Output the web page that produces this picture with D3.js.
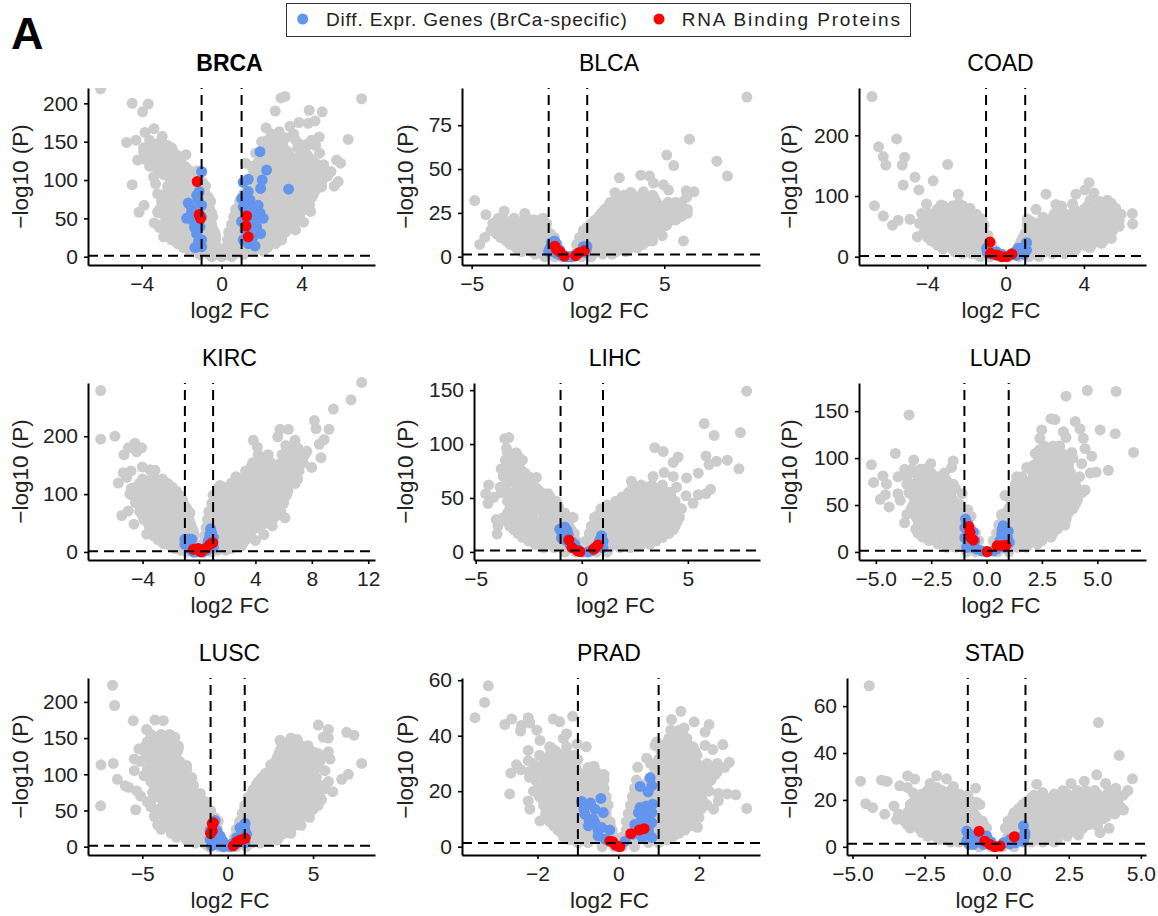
<!DOCTYPE html>
<html>
<head>
<meta charset="utf-8">
<script src="https://cdn.jsdelivr.net/npm/d3@7"></script>
<style>
  body { margin: 0; background: #fff; }
  text { font-family: "Liberation Sans", Arial, sans-serif; }
</style>
</head>
<body>
<div id="chart"></div>
<script>
// values. Grey rows are [y, x, x, x...], the sparse points are [x, y]
const brcaGreyRows = [
  [0,-0.5,0,0.5],[3,-1.1,-0.6,-0.2,0.2,0.6,1.1],
  [7,-1.6,-1.1,-0.7,-0.35,0.35,0.7,1.1,1.6,2.1],
  [12,-1.9,-1.4,-0.9,-0.5,-0.2,0.2,0.5,0.9,1.4,1.9,2.3],
  [17,-2.2,-1.7,-1.2,-0.8,-0.4,0.4,0.8,1.2,1.7,2.2,2.7],
  [22,-2.5,-2.0,-1.5,-1.0,-0.6,-0.3,0.3,0.6,1,1.5,2,2.5,3.0],
  [27,-2.5,-2,-1.5,-1,-0.6,-0.3,0.6,1,1.5,2,2.5,3],
  [32,-2.7,-2.2,-1.7,-1.2,-0.8,-0.35,0.35,0.8,1.2,1.7,2.2,2.7,3.2],
  [37,-2.9,-2.4,-1.9,-1.4,-0.9,-0.45,0.6,1,1.5,2,2.5,3,3.4],
  [42,-3.0,-2.5,-2,-1.5,-1,-0.5,0.5,0.9,1.4,1.9,2.4,2.9,3.4],
  [47,-2.7,-2.2,-1.7,-1.2,-0.7,0.8,1.2,1.7,2.2,2.7,3.2,3.7],
  [52,-2.8,-2.3,-1.8,-1.3,-0.8,-0.45,0.6,1,1.5,2,2.5,3,3.5,3.9],
  [57,-3,-2.5,-2,-1.5,-1,-0.5,0.9,1.4,1.9,2.4,2.9,3.4,3.9],
  [62,-3.1,-2.6,-2.1,-1.6,-1.1,-0.6,0.7,1.2,1.7,2.2,2.7,3.2,3.7,4.2],
  [67,-2.8,-2.3,-1.8,-1.3,-0.8,1,1.5,2,2.5,3,3.5,4,4.4],
  [72,-3.0,-2.5,-2,-1.5,-1,-0.55,0.9,1.3,1.8,2.3,2.8,3.3,3.8,4.3],
  [77,-2.6,-2.1,-1.6,-1.1,-0.65,1.1,1.6,2.1,2.6,3.1,3.6,4.1,4.5],
  [82,-2.8,-2.3,-1.8,-1.3,-0.8,1.1,1.6,2.1,2.6,3.1,3.6,4.1,4.6],
  [87,-2.5,-2,-1.5,-1,1.3,1.8,2.3,2.8,3.3,3.8,4.3,4.7],
  [92,-2.7,-2.2,-1.7,-1.2,-0.8,1.3,1.8,2.3,2.8,3.3,3.8,4.3,4.8],
  [97,-2.4,-1.9,-1.4,-0.95,1.6,2.1,2.6,3.1,3.6,4.1,4.6,5],
  [102,-2.6,-2.1,-1.6,-1.1,1.5,2,2.5,3,3.5,4,4.5,5],
  [107,-2.9,-2.4,-1.9,-1.4,1.8,2.3,2.8,3.3,3.8,4.3,4.8],
  [112,-3.1,-2.6,-2.1,-1.6,-1.2,1.6,2.1,2.6,3.1,3.6,4.1,4.6,5.0],
  [117,-3.3,-2.8,-2.3,-1.8,1.9,2.4,2.9,3.4,3.9,4.4,4.9],
  [122,-3.5,-3,-2.5,-2,1.8,2.3,2.8,3.3,3.8,4.3,4.7],
  [127,-3.8,-3.3,-2.8,-2.2,2.1,2.6,3.1,3.6,4.1,4.5],
  [132,-3.6,-3.1,-2.6,-2.2,2,2.5,3,3.4,3.9,4.3],
  [137,-3.4,-2.9,-2.6,2.3,2.8,3.3,4],
  [142,-3.9,-3.4,-2.9,-2.5,2.1,2.6,3.1,3.8,4.2],
  [147,-3.4,-3.2,2.5,2.9,3.9,4.3],
  [152,-3.6,-3.0,2.3,2.8,3.1,3.7,4.5]
];
const brcaGreyOut = [[-6.05,219],[-4.47,200],[-3.67,199],[-3.95,189],[-4.75,149],[-4.28,152],[-3.83,162],[-3.38,167],[-2.97,157],[-4.2,126],[-2.42,137],[-1.78,133],[-4.47,94],[-3.88,67],[-4.13,58],[-3.37,44],[-2.9,26],[-3.4,104],[7,206],[3.17,209],[2.97,207],[2.68,190],[4.38,191],[5.03,189],[2.22,168],[4.67,177],[4.33,174],[3.87,175],[3.42,170],[2.88,163],[6.33,153],[4.88,156],[5.75,126],[5.95,122],[5.47,111],[5.83,98],[5.63,92],[5,91],[4.45,59],[1.2,122],[5.3,105],[5.1,120],[4.9,135],[4.7,145],[3.6,160],[3.2,155],[2.5,160],[2,150],[1.7,135],[1.5,118],[-2.2,125],[-3.9,137],[-2.7,145],[-3.6,118],[-3.3,95],[-3.2,82],[-3.2,58],[-3.1,38],[3.7,35],[4.1,45],[4.4,60]];
const brcaBlue = [[-1,111],[1.92,137],[2.25,113],[3.35,88],[1.33,101],[1.08,97],[2.03,100],[1.95,89],[-1.12,85],[-1.67,70],[-1.5,57],[-1.75,50],[-1,67],[-1.25,80],[-1.4,46],[-1.08,39],[-1.25,30],[-1,22],[-1.33,12],[-1,13],[-1.5,63],[-1,52],[-1.17,74],[1,76],[1.33,85],[1.42,74],[1.83,67],[1.92,57],[2.08,50],[1.67,61],[1.08,65],[1.58,48],[1,46],[1.17,35],[1.95,30],[1.08,22],[1.67,14],[1.33,17],[1.42,54],[1.75,39],[1.33,67],[-1.3,55],[-1.35,38],[-1.15,20],[1.35,30],[1.55,25],[1.4,42],[1.7,52]];
const brcaRed = [[-1.22,98],[-1.12,55],[-1.05,50],[1.25,53],[1.22,40],[1.33,26]];

const blcaGreyRows = [
  [0,-1.2,-0.7,-0.3,0,0.3,0.7,1.2],
  [1.5,-1.7,-1.3,-0.9,0.9,1.3,1.8,2.3],
  [3,-2.4,-1.9,-1.5,-1,-0.5,0.5,1,1.5,2,2.5,3],
  [5,-2.7,-2.2,-1.7,-1.25,-0.8,0.7,1.2,1.7,2.2,2.7,3.2,3.6],
  [7,-3,-2.5,-2,-1.5,-1,-0.55,0.45,0.9,1.4,1.9,2.4,2.9,3.4,3.9],
  [9,-3.2,-2.7,-2.2,-1.7,-1.25,-0.8,0.7,1.2,1.7,2.2,2.7,3.2,3.7,4.2],
  [11,-3.5,-3,-2.5,-2,-1.5,-1.05,-0.7,0.6,1.0,1.5,2,2.5,3,3.5,4,4.3],
  [13,-3.7,-3.2,-2.7,-2.2,-1.7,-1.3,-0.9,0.9,1.4,1.9,2.4,2.9,3.4,3.9,4.4],
  [15,-4,-3.5,-3,-2.5,-2,-1.5,-1.1,0.8,1.2,1.7,2.2,2.7,3.2,3.7,4.2,4.6],
  [17,-3.8,-3.3,-2.8,-2.3,-1.8,-1.3,1,1.5,2,2.5,3,3.5,4,4.5,4.9],
  [19,-3.6,-3.1,-2.6,-2.1,-1.6,-1.1,1.2,1.6,2.1,2.6,3.1,3.6,4.1,4.6,5],
  [21,-3.3,-2.8,-2.3,-1.8,-1.3,1.4,1.8,2.3,2.8,3.3,3.8,4.3,4.8,5.2,5.6],
  [23,-2.2,1.6,2,2.5,3,3.5,4,4.5,5,5.4,5.9],
  [25,1.75,2.2,2.7,3.2,3.7,4.2,4.7,5.1,5.6],
  [27,1.9,2.3,2.8,3.3,3.8,4.3,4.8,5.3],
  [29,2.1,2.5,3,3.5,4,4.5,5,5.5],
  [31,2.2,2.7,3.2,3.7,4.2,4.6,5.2,5.6],
  [33,2.6,3,3.5,4,4.5],
  [35,2.9,3.4,3.9,4.4]
];
const blcaGreyOut = [[9.29,91],[6.31,67],[5.13,58],[5.49,52],[7.73,54.5],[8.28,46],[2.67,45],[3.78,46.5],[4.23,46],[4.44,42],[4.96,41],[5.22,38],[2.44,36.5],[3.26,36.7],[3.92,37],[6.14,37.6],[6.55,37],[6.17,34],[6.2,27],[6.2,24.7],[6,9],[5.13,18],[-4.84,32],[-4.26,24],[-3.31,26],[-4.32,11],[-4.58,7],[-2.24,24.7],[-3.62,22],[5.8,28],[5.9,31],[5.5,27],[5.4,21],[4.9,12],[4.4,9],[-3.9,19],[-2.8,22],[-1.3,22],[-1.7,21]];
const blcaBlue = [[-0.62,7.6],[-0.94,4.7],[-0.59,2],[-0.16,0],[0.19,0],[0.71,2.8],[0.97,4.7],[0.8,5.7],[0.36,1],[-0.42,3.8],[-0.8,6],[-0.75,3],[-0.3,1],[0.55,2],[0.9,2.5],[0.05,0],[-0.85,8],[-1,3],[-0.7,9],[0.98,6],[0.75,3.5],[-0.4,1]];
const blcaRed = [[-0.68,6],[-0.59,4.2],[-0.42,2.8],[-0.19,0.4],[0.4,0.6],[0.57,2.3],[0.85,3.4]];

const coadGreyRows = [
  [0,-1.3,-0.8,-0.3,0.2,0.7,1.2,1.7],
  [5,-2.2,-1.7,2.4,3],
  [8,-2.6,-2,-1.5,-1,1,1.5,2,2.6,3.1],
  [13,-3.2,-2.7,-2.2,-1.7,-1.2,-0.7,0.6,1.1,1.6,2.1,2.6,3.1,3.6],
  [19,-3.5,-3,-2.5,-2,-1.5,-1,-0.7,0.7,1,1.5,2,2.5,3,3.5,4,4.4],
  [26,-3.8,-3.3,-2.8,-2.3,-1.8,-1.3,-0.85,0.8,1.3,1.8,2.3,2.8,3.3,3.8,4.3,4.8,5],
  [32,-4,-3.5,-3,-2.5,-2,-1.5,-1,0.9,1.5,2,2.5,3,3.5,4,4.5,5,5.2],
  [39,-4.2,-3.7,-3.2,-2.7,-2.2,-1.7,-1.2,1,1.5,2,2.5,3,3.5,4,4.5,5,5.4],
  [45,-4.1,-3.6,-3.1,-2.6,-2.1,-1.6,-1.15,1.2,1.7,2.2,2.7,3.2,3.7,4.2,4.7,5.2,5.5],
  [52,-4,-3.5,-3,-2.5,-2,-1.5,-1.1,1.1,1.7,2.2,2.7,3.2,3.7,4.2,4.7,5.2,5.6],
  [58,-4.2,-3.7,-3.2,-2.7,-2.2,-1.7,-1.3,1.3,1.9,2.4,2.9,3.4,3.9,4.4,4.9,5.4,5.7],
  [65,-4.2,-3.7,-3.2,-2.7,-2.2,-1.7,1.9,2.4,2.9,3.4,3.9,4.4,4.9,5.4,5.7],
  [71,-3.9,-3.4,-2.9,-2.4,-1.9,2.5,3,3.5,4,4.5,5,5.5],
  [78,-3.5,-3,-2.5,-2,3.5,4,4.5,5,5.5],
  [84,-3.2,-2.7,-2.2,4.2,4.8]
];
const coadGreyOut = [[-6.83,264],[-5.57,194],[-6.49,181],[-6.25,165],[-6.12,151],[-5.16,164],[-5.28,151],[-2.96,152],[-4.63,131],[-3.7,125],[-5.23,118],[-4.43,110],[-2.42,103],[-6.7,84],[-6.25,67],[-5.78,52],[-5.49,60],[-4.89,61.5],[-4.51,33],[-4.04,87],[-4.29,71],[2.06,103],[1.55,78],[4.26,122],[3.59,103],[4.05,110],[4.51,105],[4.31,93],[6.47,71],[6.49,54],[5.62,80],[5.2,93],[4.82,91],[2.57,86],[2.86,83.5],[3.42,87],[-3.3,85],[-2.4,88],[-1.82,80],[-1.5,70],[-1.2,62],[-0.9,35],[-4.4,55],[-4.1,45],[5.8,60],[5.9,70],[5.8,50],[5.5,45],[5.4,30],[4.9,22],[4.3,15],[3.5,8],[1.1,62],[1.5,55],[5.4,88]];
const coadBlue = [[1.07,23],[-0.97,14],[-0.89,5.5],[1.07,11],[0.65,14],[-0.46,8],[0.82,6.6],[-0.12,0],[-0.8,9],[-0.2,4],[0.3,5],[0.9,15],[0.5,8],[0.95,4],[-0.6,3],[0.55,2],[-0.95,8]];
const coadRed = [[-0.8,24],[-0.77,5.5],[-0.43,2.7],[-0.2,0],[0.05,0],[0.32,4.4]];

const kircGreyRows = [
  [0,-0.9,-0.3,0.3,0.9],
  [3,-1.3,-0.7,0.7,1.3,1.9],
  [6,-1.7,-1,-0.4,0.4,1,1.7,2.3],
  [10,-2,-1.4,-0.8,0.8,1.4,2,2.6],
  [14,-2.5,-1.9,-1.2,-0.6,-0.25,0.25,0.6,1.2,1.9,2.5,3.1],
  [21,-2.9,-2.2,-1.6,-0.95,-0.5,0.6,1.1,1.7,2.4,3,3.3],
  [28,-3.2,-2.5,-1.9,-1.2,-0.7,-0.35,0.4,0.8,1.4,2,2.7,3.4],
  [35,-3.5,-2.8,-2.2,-1.5,-0.9,-0.4,0.6,1.2,1.7,2.4,3.1,3.7],
  [42,-3.5,-2.9,-2.2,-1.6,-1,-0.5,0.5,1,1.7,2.4,3,3.7,4.2],
  [49,-3.6,-3,-2.3,-1.6,-1,-0.6,0.9,1.4,2,2.7,3.4,4,4.6],
  [56,-3.9,-3.2,-2.6,-1.9,-1.3,-0.7,0.6,1.2,1.9,2.6,3.2,3.9,4.6,5.2],
  [63,-4,-3.3,-2.6,-2,-1.3,-0.8,0.9,1.6,2.3,2.9,3.6,4.2,4.9,5.5],
  [70,-4.2,-3.5,-2.9,-2.2,-1.6,-0.9,0.7,1.4,2.1,2.8,3.4,4.1,4.8,5.4,5.8],
  [77,-4,-3.3,-2.6,-2,-1.3,-0.9,1.1,1.8,2.4,3.1,3.8,4.5,5.1,5.7],
  [84,-4.3,-3.7,-3,-2.4,-1.7,-1.1,0.9,1.6,2.3,2.9,3.6,4.3,5,5.6,6],
  [91,-4.4,-3.6,-3,-2.3,-1.7,-1.2,1.3,2,2.7,3.4,4,4.7,5.4,6],
  [98,-4.7,-4,-3.3,-2.7,-2,-1.4,1,1.7,2.4,3.1,3.8,4.5,5.2,5.8,6.2],
  [105,-4.2,-3.4,-2.8,-2.1,-1.6,1.4,2.2,2.8,3.5,4.2,4.9,5.6,6.1],
  [112,-4.5,-3.8,-3.1,-2.4,-1.9,1.4,2.1,2.8,3.5,4.2,4.9,5.5,6.2],
  [119,-4.2,-3.5,-2.8,-2.3,2.3,3,3.7,4.4,5,5.7,6.3],
  [126,-4,-3.2,-2.6,2.7,3.3,4,4.7,5.3,6,6.4,7],
  [133,3.3,3.7,4.4,5,5.7,6.4,6.9],
  [140,3.3,4,4.7,5.4,6.1,6.7,7.1],
  [147,3.7,4.4,5,5.7,6.3,7],
  [154,3.8,4.4,5.1,5.8,6.4,7,7.4],
  [161,4.2,4.9,6.2,6.8,7.3],
  [168,4.2,4.9,5.9,6.5,7.1,7.5],
  [180,6.6,7]
];
const kircGreyOut = [[-6.97,279],[-6.97,195],[-5.96,200],[11.54,293],[10.78,263],[9.53,247],[8.18,227],[8.3,213],[9.22,212],[8.87,194],[8.53,186],[8.65,163],[7.99,146],[5.74,212],[6.34,212],[5.58,199],[6.81,193],[6.15,184],[3.85,193],[4.14,181],[-4.54,188],[-5.01,180],[-5.32,168],[-4.07,180],[-4.42,173],[-4.02,147],[-3.48,142],[-3.12,141],[-5.37,137],[-4.82,140],[-5.13,129],[-5.72,119],[-2.6,125],[-5.48,63],[-5.01,71],[-4.61,48],[-3.71,31],[1.49,115],[2.62,130],[6.1,59],[6.81,118],[7.64,174],[-0.64,68],[-4.8,110],[-4.9,100],[-3.3,128],[-2.2,118],[-1.6,100],[-1.2,90],[-0.8,65],[-4.5,85],[0.95,80],[1.5,100],[2,112],[6.3,105],[5.2,45],[4.6,30],[4,20],[3,10]];
const kircBlue = [[-0.87,22],[-0.52,22],[-1,13],[0.83,40],[0.78,31],[1.02,25],[0.66,19],[1.02,8],[-0.76,10],[0.3,0],[-0.17,0],[-0.7,22],[-1,22],[-0.95,17],[-0.55,13],[-0.65,5],[0.6,12],[0.9,33],[1,16],[0.75,25],[0.55,3],[-0.4,0]];
const kircRed = [[-0.4,4.6],[-0.05,6],[0.14,0],[0.5,6.4],[0.78,13],[0.97,16],[0.07,2]];

const lihcGreyRows = [
  [0,-0.8,-0.3,0.2,0.7,1.2],
  [4,-1.8,-1.3,-0.8,0.8,1.3,1.8,2.3],
  [7,-2.2,-1.8,-1.3,-0.9,-0.45,0.4,0.9,1.4,1.9,2.3,2.8,3.2],
  [10,-2.5,-2,-1.55,-1.1,-0.6,-0.25,0.2,0.6,1.1,1.6,2,2.5,3,3.5],
  [13.5,-2.8,-2.3,-1.9,-1.4,-1,-0.5,0.6,1,1.4,1.9,2.4,2.9,3.3,3.8],
  [17,-3,-2.6,-2.1,-1.7,-1.2,-0.7,-0.35,0.35,0.8,1.2,1.7,2.2,2.6,3.1,3.6,4.1],
  [20.5,-3.2,-2.8,-2.3,-1.85,-1.4,-0.9,-0.5,0.6,1.05,1.5,1.95,2.4,2.9,3.4,3.9,4.3],
  [24,-3.4,-2.9,-2.5,-2,-1.5,-1.1,-0.6,0.45,0.95,1.4,1.85,2.3,2.8,3.3,3.7,4.2,4.4],
  [28,-3.5,-3.1,-2.6,-2.2,-1.7,-1.25,-0.75,0.8,1.2,1.7,2.2,2.6,3.1,3.6,4.1,4.5],
  [32,-3.7,-3.2,-2.8,-2.3,-1.8,-1.4,-0.9,-0.5,0.6,1,1.5,2,2.5,2.9,3.4,3.9,4.4,4.6],
  [36,-3.5,-3.2,-2.7,-2.3,-1.8,-1.3,-0.9,1.2,1.7,2.2,2.6,3.1,3.6,4.1,4.5],
  [40,-3.4,-3,-2.5,-2.1,-1.6,-1.1,0.9,1.4,1.9,2.4,2.8,3.3,3.8,4.3,4.6],
  [43.5,-3.2,-2.7,-2.3,-1.9,-1.4,1.2,1.7,2.2,2.7,3.1,3.7,4.1],
  [47,-3.5,-3,-2.6,-2.1,-1.7,-1.2,1.6,2.1,2.5,3,3.5,4,4.4],
  [51,-3.4,-3,-2.5,-2,-1.5,1.9,2.4,2.9,3.4,3.9,4.2],
  [55,-3.8,-3.2,-2.8,-2.3,-1.9,2.2,2.7,3.2,3.7,4.2],
  [58.5,-3.6,-3,-2.5,-2.1,2.5,3,3.5],
  [62,-3.6,-3.1,-2.7,-2.3,2.4,2.8,3.3,3.8],
  [66,-3.4,-3.1,-2.7,-2.4],
  [70,-3.7,-3.3,-2.9,-2.5],
  [73.5,-3.5,-3.1,-2.7],
  [77,-3.8,-3.3,-2.9],
  [81,-3.4,-3],
  [85,-3.6,-3.2,-2.8],
  [88.5,-3.3,-3],
  [92,-3.5,-3.1]
];
const lihcGreyOut = [[7.77,149],[5.77,119],[7.48,110.6],[6.24,108],[5.85,89],[6,81],[6.35,84],[6.86,85],[7.41,77],[3.44,96.6],[3.84,93],[4.54,88],[4.31,83],[3.88,73.6],[3.36,70],[2.34,65.5],[5.49,73],[4.94,68.6],[4.31,70],[4.47,60],[6.07,58],[5.85,54],[5.49,53],[4.91,52],[5.25,45],[0.93,37.6],[-3.44,106],[-3.63,105],[-3.55,96],[-4.39,62],[-4.53,54],[-4.15,50.6],[-4.42,45],[-4.03,30],[-3.99,16.5],[-3.95,24],[-1.59,54],[-2.14,69],[-0.41,32],[-3.85,60],[-3.3,42],[-2.5,60],[-2.2,55],[-1.6,45],[-1.1,42],[-0.8,36],[0.7,33],[1.2,38],[1.6,44],[2.6,55],[3,60],[3.5,58],[4.1,55],[4.7,40],[2.6,6]];
const lihcBlue = [[-1.04,21],[-0.8,23],[-0.96,13],[-0.64,16],[-0.33,7],[0,0],[0.3,0],[0.93,15],[1,10],[1,4],[0.6,2.5],[-0.88,18],[-0.57,7],[0.77,7],[-0.9,16],[-0.45,9],[-0.75,11],[0.85,11],[0.45,1],[-0.15,2],[0.95,7],[-0.7,20]];
const lihcRed = [[-0.61,11],[-0.46,4],[-0.2,1],[-0.09,0.3],[0.55,2.5],[0.77,6.5],[0.64,4]];

const luadGreyRows = [
  [0,-0.9,-0.5,0,0.5,1],
  [5,-1.8,-1.4,-0.9,0.9,1.4,1.8],
  [8.5,-2.2,-1.7,-1.3,-0.9,-0.5,0.5,0.9,1.4,1.9,2.3],
  [12,-2.6,-2.2,-1.7,-1.3,-0.8,-0.35,0.3,0.8,1.3,1.7,2.1,2.5],
  [16,-2.9,-2.4,-2,-1.5,-1.1,-0.7,0.6,1.1,1.6,2,2.5,2.9],
  [20,-3.1,-2.7,-2.3,-1.8,-1.4,-1,-0.5,0.45,0.95,1.4,1.8,2.3,2.7,3],
  [24.5,-3.2,-2.8,-2.4,-2,-1.5,-1.1,-0.7,0.7,1.2,1.6,2.1,2.5,3,3.2],
  [29,-3,-2.6,-2.1,-1.7,-1.3,-0.85,0.55,1,1.5,1.9,2.4,2.8,3.2],
  [33.5,-3.1,-2.7,-2.2,-1.8,-1.4,-0.95,0.9,1.3,1.7,2.2,2.6,3,3.4],
  [38,-3.2,-2.8,-2.4,-1.9,-1.5,-1.1,-0.7,0.7,1.1,1.6,2,2.5,2.9,3.3,3.5],
  [42,-3.3,-2.9,-2.4,-2,-1.6,-1.2,0.9,1.2,1.7,2.1,2.6,3,3.5,3.7],
  [46,-3.4,-3,-2.6,-2.1,-1.7,-1.3,1,1.4,1.8,2.3,2.7,3.1,3.5,3.9],
  [50.5,-3.3,-2.9,-2.5,-2,-1.6,-1.2,1.1,1.6,2,2.5,2.9,3.3,3.8,4],
  [55,-3.2,-2.8,-2.4,-1.9,-1.5,1.1,1.5,2,2.4,2.8,3.2,3.7,4.1],
  [59,-3.3,-2.9,-2.4,-2,-1.6,1.2,1.7,2.2,2.6,3,3.5,3.9],
  [63,-3.5,-3,-2.6,-2.2,-1.7,1.2,1.6,2.1,2.5,2.9,3.4,3.8,4.3],
  [67.5,-3.2,-2.7,-2.3,-1.9,-1.4,1.3,1.8,2.3,2.7,3.2,3.6,4.1],
  [72,-3.3,-2.8,-2.4,-2,-1.5,1.3,1.7,2.2,2.6,3,3.5,4],
  [76,-3,-2.6,-2.2,-1.8,1.5,2,2.4,2.8,3.3,3.7,4],
  [80,-3.6,-3.1,-2.7,-2.2,1.6,2.2,2.7,3.1,3.6,3.9],
  [84,-3.2,-2.9,-2.5,2.1,2.6,3,3.5,3.8],
  [88,-3.4,-3,-2.8,2,2.4,2.9,3.3,3.7],
  [92,2.5,2.9,3.4,3.7],
  [96,2.3,2.7,3.1,3.6],
  [100.5,2.4,2.8,3.2,3.6],
  [105,2.2,2.6,3,3.4],
  [109,2.4,2.8,3.2],
  [113,2.6,3,3.3]
];
const luadGreyOut = [[3.59,166],[4.55,172],[5.85,171],[-3.5,146],[6.64,106],[5.13,130],[5.81,126],[5.5,87],[4.95,85],[4.68,84],[4.75,102],[4.3,94],[4.45,66],[-4.12,105],[-5.2,93],[-4.68,81],[-5.1,74],[-4.52,72.5],[-4.57,61],[-4.8,56],[-4.4,48],[-4,62],[-4,80],[-3.29,98],[-2.52,94],[-1.51,97],[-1.58,90],[-3.7,31],[3.54,28.6],[2.91,16],[2.91,142],[3.09,141],[4,139],[4.22,131],[2.49,130],[2.41,121],[3.47,128],[3.59,122],[4.37,121],[3.85,106],[4.45,110],[1.81,90],[1.36,80],[0.83,60],[0.68,40],[-3.9,55],[-3.6,72],[-3.7,88],[-1.9,84],[-1.6,72],[-1.1,62],[-0.85,45],[-3.6,40],[2.1,92],[3.9,100],[4.2,80],[4.1,57],[3.6,35]];
const luadBlue = [[-0.95,35],[-0.98,26],[-0.6,21],[-0.98,15],[-0.53,12],[-0.9,5],[-0.45,3],[0,0],[0.75,28],[0.98,22],[0.68,19],[0.6,12],[1.03,10],[0.45,3],[0.83,5],[-0.85,30],[-0.8,18],[-0.75,8],[0.7,24],[0.85,16],[0.7,9],[0.3,1],[-0.2,1],[-0.65,5],[0.95,15]];
const luadRed = [[-0.8,27],[-0.75,21],[-0.71,15],[-0.6,12.5],[0.03,0.4],[0.48,6.5],[0.68,6.5],[0.87,7]];

const luscGreyRows = [
  [0,-1.1,-0.5,0,0.5,1.1],
  [5,-1.9,-1.4,-0.8,0.8,1.4,1.9],
  [9,-2.4,-1.9,-1.4,-0.9,-0.45,0.45,0.9,1.4,1.9,2.4,2.9],
  [13,-3,-2.4,-1.9,-1.3,-0.8,-0.4,0.4,0.9,1.4,1.9,2.4,3],
  [18.5,-3.3,-2.8,-2.3,-1.7,-1.2,-0.7,0.7,1.2,1.7,2.2,2.7,3.3,3.7],
  [24,-3.9,-3.3,-2.8,-2.2,-1.6,-1.1,-0.6,0.5,1,1.6,2.1,2.7,3.2,3.7],
  [29.5,-3.9,-3.4,-2.8,-2.3,-1.7,-1.2,-0.7,0.7,1.2,1.8,2.3,2.9,3.4,3.9,4.3],
  [35,-3.7,-3.1,-2.5,-2,-1.4,-0.9,-0.55,0.7,1.2,1.8,2.3,2.9,3.5,4.1],
  [40.5,-3.7,-3.1,-2.6,-2,-1.5,-1,0.9,1.5,2,2.6,3.2,3.7,4.3,4.8],
  [46,-4,-3.4,-2.9,-2.3,-1.7,-1.2,0.85,1.4,2,2.5,3.1,3.6,4.2,4.8],
  [51.5,-4.1,-3.5,-3,-2.4,-1.9,-1.4,1,1.6,2.2,2.8,3.3,3.9,4.4,5],
  [57,-3.8,-3.2,-2.6,-2.1,-1.5,1,1.5,2.1,2.7,3.2,3.8,4.4,4.9,5.3],
  [62.5,-4.5,-3.5,-2.9,-2.4,-1.8,-1.4,1.2,1.7,2.3,2.9,3.5,4,4.6,5.2],
  [68,-4,-3.5,-2.9,-2.4,-1.8,1.2,1.7,2.3,2.8,3.4,4,4.5,5.1,5.4],
  [73.5,-3.7,-3.2,-2.6,-2,-1.6,1.4,2,2.5,3.1,3.7,4.2,4.8,5.3],
  [79,-4.3,-3.8,-3.2,-2.7,-2.1,1.5,2,2.5,3.1,3.7,4.2,4.8,5.3],
  [84.5,-4.2,-3.6,-3,-2.5,-2,1.7,2.2,2.8,3.3,3.9,4.5,5.1,5.6],
  [90,-4,-3.4,-2.9,-2.3,1.8,2.3,2.9,3.4,4,4.5,5],
  [95.5,-4.3,-3.7,-3.1,-2.5,-2.1,2,2.6,3.2,3.7,4.3,4.8,5.2],
  [101,-4.3,-3.7,-3.2,-2.6,2.2,2.8,3.3,3.9,4.4,4.9],
  [106.5,-4.7,-4.1,-3.5,-2.9,-2.4,2.5,3,3.6,4.1,4.7,5.1],
  [112,-4.5,-4,-3.4,-2.9,-2.4,2.7,3.2,3.8,4.3,4.8,5.2],
  [117.5,-4.5,-3.9,-3.3,-2.8,2.8,3.4,3.9,4.5,5,5.4],
  [123,-4.8,-4.2,-3.6,-3.1,2.9,3.5,4,4.6,5],
  [128.5,-4.7,-4.1,-3.6,-3,3,3.4,3.9,4.4,4.9,5.3],
  [134,-5,-4.4,-3.9,-3.3,-2.9,3.1,3.6,4.2,4.8],
  [139.5,-4.8,-4.3,-3.7,-3.3,-2.9,3.2,3.7,4.3,4.7],
  [145,-4.7,-4.2,-3.6,-3.2,3.1,3.6],
  [150,-4.5,-4,-3.7,-3.4],
  [155,-4.5,-3.9,-3.4]
];
const luscGreyOut = [[-6.74,223],[-6.62,195],[-7.42,113],[-6.7,115],[-7.44,56.5],[-6.46,93],[-5.53,174],[-4.26,175],[-3.77,174],[-4.75,162],[-5.47,121],[-5.47,105],[-6,84],[-5.33,77],[-5.39,51],[-4.9,98],[5.31,168],[5.9,162],[6.97,158],[7.4,154],[5.9,150],[5.6,151],[7.85,115],[7.07,100],[6.68,93],[6.15,76],[3.07,147],[3.71,150],[4.08,148],[5.9,131],[5.5,126],[6,121],[2.52,113],[2.29,98],[1.7,86],[-3.09,151],[-2.89,137],[-5.8,82],[-5.1,70],[-4.7,62],[5.7,105],[5.9,90],[5.7,80],[5.5,65],[-5.2,135],[-5.1,118],[-4.5,90],[-4.4,75],[-4.5,55],[-4.3,42],[-4.1,30],[-1.3,62],[-1,50],[-0.75,40],[5.1,130]];
const luscBlue = [[-0.74,36],[-1.03,22],[-0.64,22],[-1.03,10],[-0.55,8],[-0.94,1],[-0.25,0],[1.02,32],[0.72,26],[1.11,17],[0.53,12.5],[1.02,5.5],[0.14,0],[-0.45,15],[-0.85,28],[-0.95,15],[-0.75,12],[-0.5,3],[0.85,24],[1,24],[0.85,12],[0.5,4],[-0.75,4],[0.25,4],[-0.3,8]];
const luscRed = [[-0.9,32],[-1,18.5],[-0.84,33],[-0.9,22],[1.02,11.5],[0.72,9],[0.53,6.5],[0.33,1],[0.88,10]];

const pradGreyRows = [
  [0,-0.4,-0.1,0.1,0.4],
  [1.5,-1,-0.75,0.75,1],
  [2.5,-1.2,-0.95,-0.7,-0.45,0.45,0.7,0.95,1.2],
  [3.5,-1.35,-1.1,-0.85,-0.6,-0.3,-0.1,0.1,0.3,0.6,0.85,1.1,1.35],
  [4.8,-1.4,-1.2,-0.95,-0.7,-0.45,-0.2,0.3,0.55,0.8,1.05,1.3,1.5],
  [6,-1.5,-1.3,-1,-0.8,-0.55,-0.3,-0.15,0.2,0.45,0.7,0.95,1.2,1.4,1.65],
  [7.5,-1.6,-1.4,-1.1,-0.9,-0.65,-0.4,-0.2,0.35,0.6,0.85,1.1,1.3,1.55,1.8],
  [9,-1.7,-1.45,-1.2,-1,-0.75,-0.5,-0.2,0.2,0.45,0.7,0.95,1.2,1.45,1.7,1.85],
  [10.5,-1.75,-1.5,-1.25,-1,-0.8,-0.55,-0.3,0.35,0.6,0.85,1.1,1.35,1.6,1.8,2],
  [12,-1.8,-1.55,-1.35,-1.1,-0.85,-0.6,-0.3,0.25,0.5,0.75,1,1.25,1.5,1.7,1.95],
  [13.5,-1.75,-1.45,-1.25,-1,-0.75,-0.5,-0.3,0.4,0.65,0.9,1.15,1.4,1.6,1.85,2.05],
  [15,-1.85,-1.6,-1.4,-1.15,-0.9,-0.65,-0.4,-0.25,0.3,0.55,0.8,1.05,1.3,1.5,1.75,2],
  [16.5,-1.85,-1.55,-1.3,-1.1,-0.85,-0.6,-0.35,0.45,0.7,0.95,1.2,1.4,1.65,1.9,2.1],
  [18,-1.95,-1.7,-1.45,-1.2,-1,-0.75,-0.5,-0.3,0.35,0.6,0.85,1.1,1.3,1.55,1.8,2.05],
  [19.5,-1.85,-1.6,-1.35,-1.15,-0.9,-0.7,-0.45,0.5,0.75,1,1.25,1.45,1.7,1.95],
  [21,-2,-1.75,-1.5,-1.3,-1.05,-0.8,-0.6,-0.35,0.4,0.65,0.9,1.15,1.35,1.6,1.85,2.05],
  [22.5,-1.9,-1.65,-1.4,-1.2,-0.95,-0.7,-0.5,0.55,0.8,1.05,1.3,1.5,1.75,2,2.2],
  [24,-2.05,-1.8,-1.6,-1.35,-1.1,-0.85,-0.6,-0.35,0.45,0.75,1,1.2,1.45,1.7,1.9,2.15,2.3],
  [25.5,-2.05,-1.75,-1.5,-1.25,-1,-0.8,-0.55,0.85,1.1,1.35,1.6,1.8,2,2.3],
  [27,-2.2,-1.95,-1.7,-1.45,-1.2,-1,-0.7,-0.55,1,1.25,1.5,1.75,1.95,2.2,2.45],
  [28.5,-2,-1.75,-1.5,-1.25,-1.05,-0.75,0.9,1.15,1.4,1.6,1.85,2.05,2.3],
  [30,-2.1,-1.85,-1.6,-1.35,-1.1,0.8,1.05,1.3,1.5,1.7,1.95,2.2,2.45],
  [31.5,-1.8,-1.55,-1.25,-1,1,1.25,1.45,1.7,1.85],
  [33,-1.95,-1.7,-1.45,-1.1,1.15,1.35,1.6,1.8,1.95],
  [34.5,-1.55,1.05,1.25,1.5,1.75,1.9],
  [36,-1.7,1.15,1.4,1.65,1.85],
  [37.5,1.2,1.45,1.7],
  [39,1.25,1.45,1.7],
  [40.5,1.35,1.6],
  [42,1.3,1.5]
];
const pradGreyOut = [[-3.22,58],[-3.31,52],[-3.55,46.5],[-2.81,44],[-2.64,46],[-2.4,43.7],[-2.42,41.7],[-2.23,46.5],[-2.19,44.6],[-2.02,42],[-1.61,46],[-1.45,45],[-1.13,47],[-1.28,40.7],[-1.36,39],[-1.28,36],[-1.02,37],[-0.79,36],[-1.65,35.6],[-2.66,26.5],[-2.52,29.5],[-2.41,27.7],[-2.69,19],[-2.23,16.5],[-2.19,13.5],[-1.94,9.3],[-2.23,34.7],[-1.94,38.3],[-2.23,31],[1.55,48.8],[1.32,45.8],[1.63,42.8],[1.88,45],[2.25,44],[2.15,41.3],[2.15,36.5],[2.34,35],[2.59,36.8],[2.75,30.4],[3.18,13.8],[2.91,18.7],[2.7,19],[2.48,19.2],[2.48,16.5],[2.36,13.5],[1.96,7],[0.95,37.7],[0.91,36.5],[0.48,28.6],[0.7,31.9],[2.64,28.6],[2.4,26],[2.25,20],[2.2,15],[-2.2,25],[-2.1,20],[-1.3,34],[-0.6,29],[-0.35,26]];
const pradBlue = [[-0.91,16.3],[-0.69,15.7],[-0.43,17.4],[-0.37,12.3],[-0.58,13.5],[-0.83,11.7],[-0.74,7.5],[-0.58,8.7],[-0.41,6.9],[-0.21,6],[-0.5,3.9],[-0.33,2.7],[-0.62,10],[0.79,24.8],[0.54,21.7],[0.74,19.8],[0.83,22],[0.85,15.3],[0.54,14.1],[0.5,12.3],[0.83,12.3],[0.66,11],[0.41,8],[0.83,8.7],[0.37,4.5],[0.83,3.3],[0.17,2],[0.62,4.5],[0,0],[0.7,14.7],[-0.85,13.5],[-0.72,9.5],[-0.5,6],[0.65,8],[0.6,3],[0.75,6],[0.55,9]];
const pradRed = [[-0.14,1.8],[-0.21,2],[-0.07,0.6],[0.04,0],[0.31,4.7],[0.52,6],[0.64,6.5]];

const stadGreyRows = [
  [0,-0.6,-0.2,0.2,0.6],
  [2,-1.6,-1.3,-1,0.9,1.2,1.6,2],
  [3,-2,-1.7,-1.4,-1.05,-0.7,-0.35,0.35,0.7,1.05,1.4,1.8,2.1],
  [4.5,-2.4,-2.1,-1.8,-1.45,-1.1,-0.8,-0.45,0.4,0.75,1.1,1.4,1.75,2.1,2.45],
  [6.2,-2.6,-2.2,-1.9,-1.6,-1.2,-0.9,-0.5,0.5,0.85,1.2,1.5,1.85,2.2,2.5,2.85],
  [8,-3,-2.7,-2.4,-2,-1.7,-1.4,-1.05,-0.7,-0.35,0.3,0.65,1,1.3,1.65,2,2.3,2.65,3],
  [9.5,-3.1,-2.75,-2.45,-2.1,-1.8,-1.45,-1.15,-0.8,-0.45,0.45,0.85,1.15,1.5,1.85,2.15,2.5,2.85,3.2],
  [11,-3.2,-2.85,-2.5,-2.2,-1.85,-1.5,-1.2,-0.85,-0.5,0.4,0.75,1.1,1.4,1.75,2.1,2.4,2.8,3.1,3.4],
  [12.8,-3.3,-3,-2.65,-2.3,-2,-1.65,-1.3,-1,-0.7,0.55,0.9,1.2,1.55,1.9,2.2,2.5,2.9,3.2,3.5,3.8],
  [14.5,-3.1,-2.8,-2.45,-2.1,-1.8,-1.45,-1.1,-0.8,0.6,1,1.3,1.65,2,2.3,2.65,3,3.3,3.65,4],
  [16.2,-3,-2.7,-2.35,-2.05,-1.65,-1.3,-0.95,0.75,1.15,1.5,1.8,2.15,2.5,2.8,3.15,3.5,3.8,4.1],
  [18,-3,-2.65,-2.3,-2,-1.65,-1.3,-1,0.9,1.2,1.55,1.9,2.2,2.55,2.9,3.2,3.6,3.9,4.2],
  [19.5,-2.85,-2.5,-2.2,-1.85,-1.5,-1.15,-0.9,1.05,1.4,1.7,2.05,2.4,2.75,3.05,3.4,3.75,4.1],
  [21,-2.8,-2.45,-2.1,-1.8,-1.45,-1.15,1.2,1.9,2.3,2.6,2.95,3.3,3.7,4],
  [22.5,-2.6,-2.25,-1.95,-1.6,-1.3,2,2.45,2.8,3.1,3.5,3.85,4.1],
  [24,-2.4,-1.9,-1.6,2.3,2.8,3.1,3.4,3.9]
];
const stadGreyOut = [[-4.42,68.7],[3.53,53],[4.25,39],[4.71,29],[4.55,24],[3.47,30.7],[3.78,27],[4.13,25],[4.4,15.7],[3.9,7.9],[3.59,6],[2.84,5],[1.39,26.7],[2.58,27],[3.04,28],[-4.72,28],[-3.99,28.4],[-3.8,27.9],[-3.09,30.3],[-2.84,28.9],[-3.36,26],[-3.1,25.3],[-2.08,30.3],[-1.74,29],[-2.31,27],[-0.73,25],[-1.5,25.7],[-4.54,18.4],[-4.3,16.7],[-3.88,13.9],[-3.56,17.4],[-3.47,11.7],[-0.58,18],[-2.08,25.3],[-3.4,14],[-2.9,23],[-1,22],[-0.7,19],[1.3,22],[1.6,23],[4.2,20],[4.3,17],[4.1,14],[3.7,12],[3.5,9],[4.4,22]];
const stadBlue = [[-1.04,6.7],[-0.98,3.9],[-1.04,2.4],[-0.69,3.9],[-0.35,4.6],[-0.46,1],[-0.12,0.3],[0.23,1.7],[0.46,3.1],[0.75,3.9],[0.98,4.6],[0.93,8.9],[0.98,6],[-0.81,1],[0.93,2.4],[0.64,1.7],[-0.93,5.3],[-0.7,2],[-0.2,2.2],[0.45,1.2],[0.8,3],[-0.95,1]];
const stadRed = [[-0.61,6.6],[-0.41,2.4],[-0.23,1],[-0.06,0],[0.12,0.3],[0.61,4.3]];

const legendLabels = ["Diff. Expr. Genes (BrCa-specific)", "RNA Binding Proteins"];

const greyColor = "#cccccc";
const blueColor = "#6495ed";
const redColor = "#ff0000";
const pointRadius = 5.5;

const rowTops = [88, 383, 678];
const plotHeight = 177;
const columns = [
    { left: 88, right: 375, yTitle: 21 },
    { left: 462, right: 760, yTitle: 406 },
    { left: 859, right: 1146, yTitle: 790 }
];

const panels = [
    { name: "BRCA", row: 0, col: 0, bold: true, clip: true, rows: brcaGreyRows, out: brcaGreyOut, blue: brcaBlue, red: brcaRed, xDomain: [-6.68, 7.67], yDomain: [-10.8, 220], xTicks: [-4, 0, 4], yTicks: [0, 50, 100, 150, 200] },
    { name: "BLCA", row: 0, col: 1, rows: blcaGreyRows, out: blcaGreyOut, blue: blcaBlue, red: blcaRed, xDomain: [-5.5, 9.97], yDomain: [-4.7, 96.2], xTicks: [-5, 0, 5], yTicks: [0, 25, 50, 75] },
    { name: "COAD", row: 0, col: 2, rows: coadGreyRows, out: coadGreyOut, blue: coadBlue, red: coadRed, xDomain: [-7.49, 7.17], yDomain: [-13.7, 278], xTicks: [-4, 0, 4], yTicks: [0, 100, 200] },
    { name: "KIRC", row: 1, col: 0, rows: kircGreyRows, out: kircGreyOut, blue: kircBlue, red: kircRed, xDomain: [-7.87, 12.48], yDomain: [-13.9, 292], xTicks: [-4, 0, 4, 8, 12], yTicks: [0, 100, 200] },
    { name: "LIHC", row: 1, col: 1, left: 474, rows: lihcGreyRows, out: lihcGreyOut, blue: lihcBlue, red: lihcRed, xDomain: [-5.08, 8.4], yDomain: [-7.5, 156.6], xTicks: [-5, 0, 5], yTicks: [0, 50, 100, 150] },
    { name: "LUAD", row: 1, col: 2, rows: luadGreyRows, out: luadGreyOut, blue: luadBlue, red: luadRed, xDomain: [-5.76, 7.2], yDomain: [-8.6, 180], xTicks: [-5, -2.5, 0, 2.5, 5], yTicks: [0, 50, 100, 150], decimals: true },
    { name: "LUSC", row: 2, col: 0, rows: luscGreyRows, out: luscGreyOut, blue: luscBlue, red: luscRed, xDomain: [-8.18, 8.63], yDomain: [-11.5, 233], xTicks: [-5, 0, 5], yTicks: [0, 50, 100, 150, 200] },
    { name: "PRAD", row: 2, col: 1, rows: pradGreyRows, out: pradGreyOut, blue: pradBlue, red: pradRed, xDomain: [-3.87, 3.51], yDomain: [-3, 60.8], xTicks: [-2, 0, 2], yTicks: [0, 20, 40, 60] },
    { name: "STAD", row: 2, col: 2, left: 847, rows: stadGreyRows, out: stadGreyOut, blue: stadBlue, red: stadRed, xDomain: [-5.19, 5.18], yDomain: [-3.5, 72], xTicks: [-5, -2.5, 0, 2.5, 5], yTicks: [0, 20, 40, 60], decimals: true }
];

const svg = d3.select("#chart").append("svg")
    .attr("width", 1158)
    .attr("height", 916);

function drawPoints(g, points, color, x, y) {
    g.append("g")
        .selectAll("circle")
        .data(points)
        .enter().append("circle")
        .attr("cx", d => x(d[0]))
        .attr("cy", d => y(d[1]))
        .attr("r", pointRadius)
        .attr("fill", color);
}

function drawPanel(panel, i) {
    const col = columns[panel.col];
    const left = panel.left || col.left;
    const top = rowTops[panel.row];
    const width = col.right - left;

    const x = d3.scaleLinear().domain(panel.xDomain).range([0, width]);
    const y = d3.scaleLinear().domain(panel.yDomain).range([plotHeight, 0]);

    const outer = svg.append("g");
    if (panel.clip) {
        svg.append("clipPath")
            .attr("id", `clip${i}`)
            .append("rect")
            .attr("x", left)
            .attr("y", top)
            .attr("width", width)
            .attr("height", plotHeight);
        outer.attr("clip-path", `url(#clip${i})`);
    }
    const marks = outer.append("g").attr("transform", `translate(${left},${top})`);

    const grey = panel.rows.flatMap(r => r.slice(1).map(v => [v, r[0]])).concat(panel.out);
    drawPoints(marks, grey, greyColor, x, y);
    drawPoints(marks, panel.blue, blueColor, x, y);
    drawPoints(marks, panel.red, redColor, x, y);

    // threshold lines sit over the points
    [-1, 1].forEach(v => {
        marks.append("line")
            .attr("x1", x(v))
            .attr("x2", x(v))
            .attr("y1", plotHeight)
            .attr("y2", 0)
            .attr("stroke", "#000")
            .attr("stroke-width", 2)
            .attr("stroke-dasharray", "10,6");
    });
    marks.append("line")
        .attr("x1", 0)
        .attr("x2", width)
        .attr("y1", y(1.3))
        .attr("y2", y(1.3))
        .attr("stroke", "#000")
        .attr("stroke-width", 2)
        .attr("stroke-dasharray", "10,6");

    const axes = svg.append("g").attr("transform", `translate(${left},${top})`);
    const xFormat = panel.decimals ? d3.format(".1f") : d3.format("d");

    const xAxis = axes.append("g")
        .attr("transform", `translate(0,${plotHeight})`)
        .call(d3.axisBottom(x).tickValues(panel.xTicks).tickFormat(xFormat).tickSize(4).tickSizeOuter(0).tickPadding(7));
    const yAxis = axes.append("g")
        .call(d3.axisLeft(y).tickValues(panel.yTicks).tickSize(4).tickSizeOuter(0).tickPadding(6));

    [xAxis, yAxis].forEach(a => {
        a.select(".domain").attr("stroke", "#000").attr("stroke-width", 2);
        a.selectAll(".tick line").attr("stroke", "#000").attr("stroke-width", 1.6);
        a.selectAll(".tick text")
            .attr("fill", "#222")
            .attr("font-size", "21px")
            .style("font-family", "'Liberation Sans', Arial, sans-serif");
    });

    axes.append("text")
        .attr("x", width / 2 - 1.5)
        .attr("y", plotHeight + 53)
        .attr("text-anchor", "middle")
        .attr("font-size", "22.5px")
        .attr("fill", "#222")
        .text("log2 FC");

    svg.append("text")
        .attr("transform", `translate(${col.yTitle + 7},${top + plotHeight / 2}) rotate(-90)`)
        .attr("text-anchor", "middle")
        .attr("font-size", "22.5px")
        .attr("fill", "#222")
        .text("\u2212log10 (P)");

    axes.append("text")
        .attr("x", width / 2 - 2)
        .attr("y", -17.5)
        .attr("text-anchor", "middle")
        .attr("font-size", "23px")
        .style("font-weight", panel.bold ? "bold" : "normal")
        .attr("fill", "#000")
        .text(panel.name);
}

panels.forEach(drawPanel);

svg.append("text")
    .attr("x", 11)
    .attr("y", 49)
    .attr("font-size", "45px")
    .style("font-weight", "bold")
    .attr("fill", "#000")
    .text("A");

// legend
const legend = svg.append("g");
legend.append("rect")
    .attr("x", 286.5)
    .attr("y", 3.5)
    .attr("width", 624)
    .attr("height", 33)
    .attr("fill", "#fff")
    .attr("stroke", "#333")
    .attr("stroke-width", 1);

legend.selectAll("circle")
    .data([[302.7, blueColor], [659, redColor]])
    .enter().append("circle")
    .attr("cx", d => d[0])
    .attr("cy", 19)
    .attr("r", pointRadius)
    .attr("fill", d => d[1]);

legend.selectAll("text")
    .data(legendLabels)
    .enter().append("text")
    .attr("x", (d, i) => [326, 681.7][i])
    .attr("y", 26)
    .attr("font-size", "19px")
    .attr("letter-spacing", (d, i) => [0.83, 1.87][i] + "px")
    .attr("fill", "#222")
    .text(d => d);
</script>
</body>
</html>
